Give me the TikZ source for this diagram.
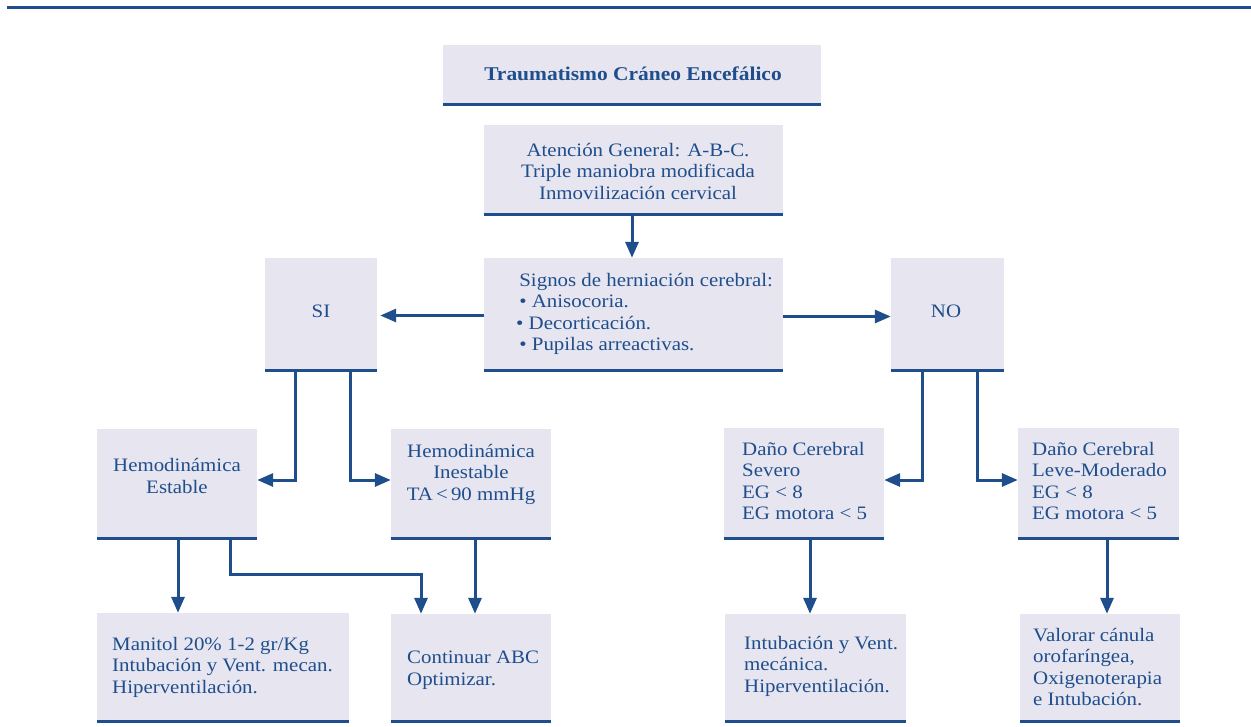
\documentclass[tikz,border=0pt]{standalone}
\usepackage{fontspec}
\setmainfont[FakeStretch=1.1]{Liberation Serif}
\usetikzlibrary{arrows.meta,fit,calc}
\definecolor{bblue}{HTML}{1F4E8C}
\definecolor{bfill}{HTML}{E7E6F0}
\tikzset{
  boxst/.style={fill=bfill, inner sep=0pt, draw=none},
  txt/.style={text=bblue, align=left, inner sep=0pt, font=\fontsize{19}{21.5}\selectfont},
  ctxt/.style={txt, align=center},
  border/.style={draw=bblue, line width=3.4pt},
  arr/.style={draw=bblue, line width=3pt, -{Triangle[length=16pt,width=13pt]}},
}
\begin{document}
\begin{tikzpicture}[x=1pt,y=-1pt]
\useasboundingbox (0,0) rectangle (1251,726);
\draw[draw=bblue, line width=3.4pt] (7,7.5) -- (1251,7.5);
% boxes
\node[boxst, fit={(443,45)(821,104)}] (tit) {};
\node[boxst, fit={(484,125)(783,214)}] (att) {};
\node[boxst, fit={(484,258)(783,370)}] (sig) {};
\node[boxst, fit={(265,258)(377,370)}] (si) {};
\node[boxst, fit={(891,258)(1004,370)}] (no) {};
\node[boxst, fit={(97,429)(257,538)}] (est) {};
\node[boxst, fit={(391,429)(551,538)}] (ine) {};
\node[boxst, fit={(724,428)(884,538)}] (sev) {};
\node[boxst, fit={(1018,428)(1179,538)}] (lev) {};
\node[boxst, fit={(97,613)(349,721)}] (man) {};
\node[boxst, fit={(391,614)(551,721)}] (cont) {};
\node[boxst, fit={(725,614)(906,721)}] (intu) {};
\node[boxst, fit={(1020,614)(1180,721)}] (val) {};
\foreach \n in {tit,att,sig,si,no,est,ine,sev,lev,man,cont,intu,val}{
  \draw[border] (\n.south west) -- (\n.south east);
}
% texts
\node[ctxt, font=\bfseries\fontsize{19.5}{21}\selectfont] (tt) at (633,74) {Traumatismo Cráneo Encefálico};
\node[ctxt] (ta) at (638,171) {Atención General: A-B-C.\\Triple maniobra modificada\\Inmovilización cervical};
\node[txt, anchor=west] (ts) at (516,314) {\,Signos de herniación cerebral:\\\,• Anisocoria.\\• Decorticación.\\\,• Pupilas arreactivas.};
\node[ctxt] (tsi) at (321,311) {SI};
\node[ctxt] (tno) at (946,311) {NO};
\node[ctxt] (test) at (177,476) {Hemodinámica\\Estable};
\node[ctxt] (tine) at (471,474) {Hemodinámica\\Inestable\\TA\,<\,90 mmHg};
\node[txt, anchor=west] (tsev) at (742,481) {Daño Cerebral\\Severo\\EG < 8\\EG motora < 5};
\node[txt, anchor=west] (tlev) at (1032,481) {Daño Cerebral\\Leve-Moderado\\EG < 8\\EG motora < 5};
\node[txt, anchor=west] (tman) at (112,667) {Manitol 20\% 1-2 gr/Kg\\Intubación y Vent. mecan.\\Hiperventilación.};
\node[txt, anchor=west] (tcont) at (407,670) {Continuar ABC\\Optimizar.};
\node[txt, anchor=west] (tint) at (744,666) {Intubación y Vent.\\mecánica.\\Hiperventilación.};
\node[txt, anchor=west] (tval) at (1033,667) {Valorar cánula\\orofaríngea,\\Oxigenoterapia\\e Intubación.};
% connectors
\draw[arr] ([xshift=-1.5pt]att.south) -- ([xshift=-1.5pt]sig.north);
\draw[arr, shorten >=3pt] ([yshift=-1.5pt]sig.west) -- ([yshift=-1.5pt]si.east);
\draw[arr] ([yshift=-2.5pt]sig.east) -- ([yshift=-2.5pt]no.west);
\draw[arr] ([xshift=-26pt]si.south) |- ([yshift=3.5pt]est.east);
\draw[arr] ([xshift=29pt]si.south) |- ([yshift=3.5pt]ine.west);
\draw[arr] ([xshift=-25.5pt]no.south) |- ([yshift=3pt]sev.east);
\draw[arr] ([xshift=29.5pt]no.south) |- ([yshift=3pt]lev.west);
\draw[arr] ([xshift=1pt]est.south) -- ([xshift=1pt]est.south |- man.north);
\draw[arr] ([xshift=53pt]est.south) -- ++(0,36) -| ([xshift=-50pt]cont.north);
\draw[arr] ([xshift=4pt]ine.south) -- ([xshift=4pt]ine.south |- cont.north);
\draw[arr] ([xshift=6pt]sev.south) -- ([xshift=6pt]sev.south |- intu.north);
\draw[arr] ([xshift=8.5pt]lev.south) -- ([xshift=8.5pt]lev.south |- val.north);
\end{tikzpicture}
\end{document}
